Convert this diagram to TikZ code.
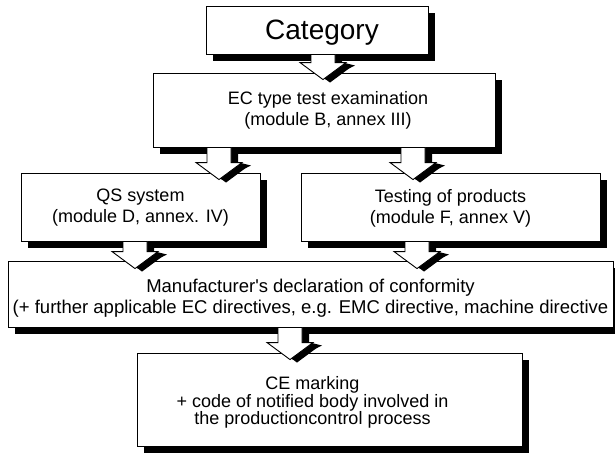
\documentclass[tikz,border=0pt]{standalone}
\usepackage{fontspec}
\setmainfont{Liberation Sans}
\usetikzlibrary{calc,shadows}
\tikzset{
  boxstyle/.style={draw=black, line width=0.9pt, fill=white, inner sep=0pt,
    drop shadow={shadow xshift=7pt, shadow yshift=-7pt, opacity=1, fill=black}},
  txt/.style={align=center, inner sep=0pt, font=\fontsize{18}{21}\selectfont},
  bigtxt/.style={inner sep=0pt, font=\fontsize{28}{32}\selectfont},
}
\newcommand\barrowpath[4]{($(#1)+(-12+#3,#4)$) -- ($(#2)+(-12+#3,-17+#4)$) -- ($(#2)+(-23+#3,-17+#4)$) -- ($(#2)+(#3,#4)$) -- ($(#2)+(23+#3,-17+#4)$) -- ($(#2)+(12+#3,-17+#4)$) -- ($(#1)+(12+#3,#4)$) -- cycle}
\newcommand\blockarrow[2]{%
  \fill[black] \barrowpath{#1}{#2}{7}{3};
  \fill[black] ($(#2)+(2,0)$) -- ($(#2)+(32,-14)$) -- ($(#2)+(20,-17)$) -- cycle;
  \filldraw[fill=white, draw=black, line width=0.9pt, line join=miter] \barrowpath{#1}{#2}{0}{0};}
\begin{document}
\begin{tikzpicture}[x=1pt, y=-1pt]
\useasboundingbox (0,0) rectangle (615,453);
\fill[white] (0,0) rectangle (615,453);
% boxes
\node[boxstyle, minimum width=222pt, minimum height=48pt] (cat) at (317,30) {};
\node[boxstyle, minimum width=342pt, minimum height=74pt] (ec) at (324,110) {};
\node[boxstyle, minimum width=239pt, minimum height=68pt] (qs) at (140.5,207) {};
\node[boxstyle, minimum width=299pt, minimum height=68pt] (tp) at (450.5,207) {};
\node[boxstyle, minimum width=605pt, minimum height=66pt] (mf) at (310.5,294) {};
\node[boxstyle, minimum width=385pt, minimum height=93pt] (ce) at (329.5,399.5) {};
% texts
\node[bigtxt, anchor=base] (catt) at ($(cat.center)+(5,9)$) {Category};
\node[txt] (ect) at ($(ec.center)+(4,0)$) {EC type test examination\\(module B, annex III)};
\node[txt] (qst) at ($(qs.center)+(0,1)$) {QS system\\(module D, annex. IV)};
\node[txt] (tpt) at ($(tp.center)+(0,1)$) {Testing of products\\(module F, annex V)};
\node[txt, font=\fontsize{18.5}{21}\selectfont] (mft) at ($(mf.center)+(0,4)$) {Manufacturer\textquotesingle s declaration of conformity\\(+ further applicable EC directives, e.g. EMC directive, machine directive};
\node[txt, font=\fontsize{18}{17.5}\selectfont] (cet) at ($(ce.center)+(-17,3)$) {CE marking\\+ code of notified body involved in\\the productioncontrol process};
% arrow end points
\coordinate (a1s) at ([xshift=6pt]cat.south);
\coordinate (a1e) at ([yshift=-7pt]a1s |- ec.north);
\coordinate (a2s) at ([xshift=-105pt]ec.south);
\coordinate (a2e) at ([yshift=-7pt]a2s |- qs.north);
\coordinate (a3s) at ([xshift=89pt]ec.south);
\coordinate (a3e) at ([yshift=-7pt]a3s |- tp.north);
\coordinate (a4s) at ([xshift=-5.5pt]qs.south);
\coordinate (a4e) at ([yshift=-8pt]a4s |- mf.north);
\coordinate (a5s) at ([xshift=-33.5pt]tp.south);
\coordinate (a5e) at ([yshift=-8pt]a5s |- mf.north);
\coordinate (a6s) at ([xshift=-20.5pt]mf.south);
\coordinate (a6e) at ([yshift=-7pt]a6s |- ce.north);
% arrows
\blockarrow{a1s}{a1e}
\blockarrow{a2s}{a2e}
\blockarrow{a3s}{a3e}
\blockarrow{a4s}{a4e}
\blockarrow{a5s}{a5e}
\blockarrow{a6s}{a6e}
\end{tikzpicture}
\end{document}
